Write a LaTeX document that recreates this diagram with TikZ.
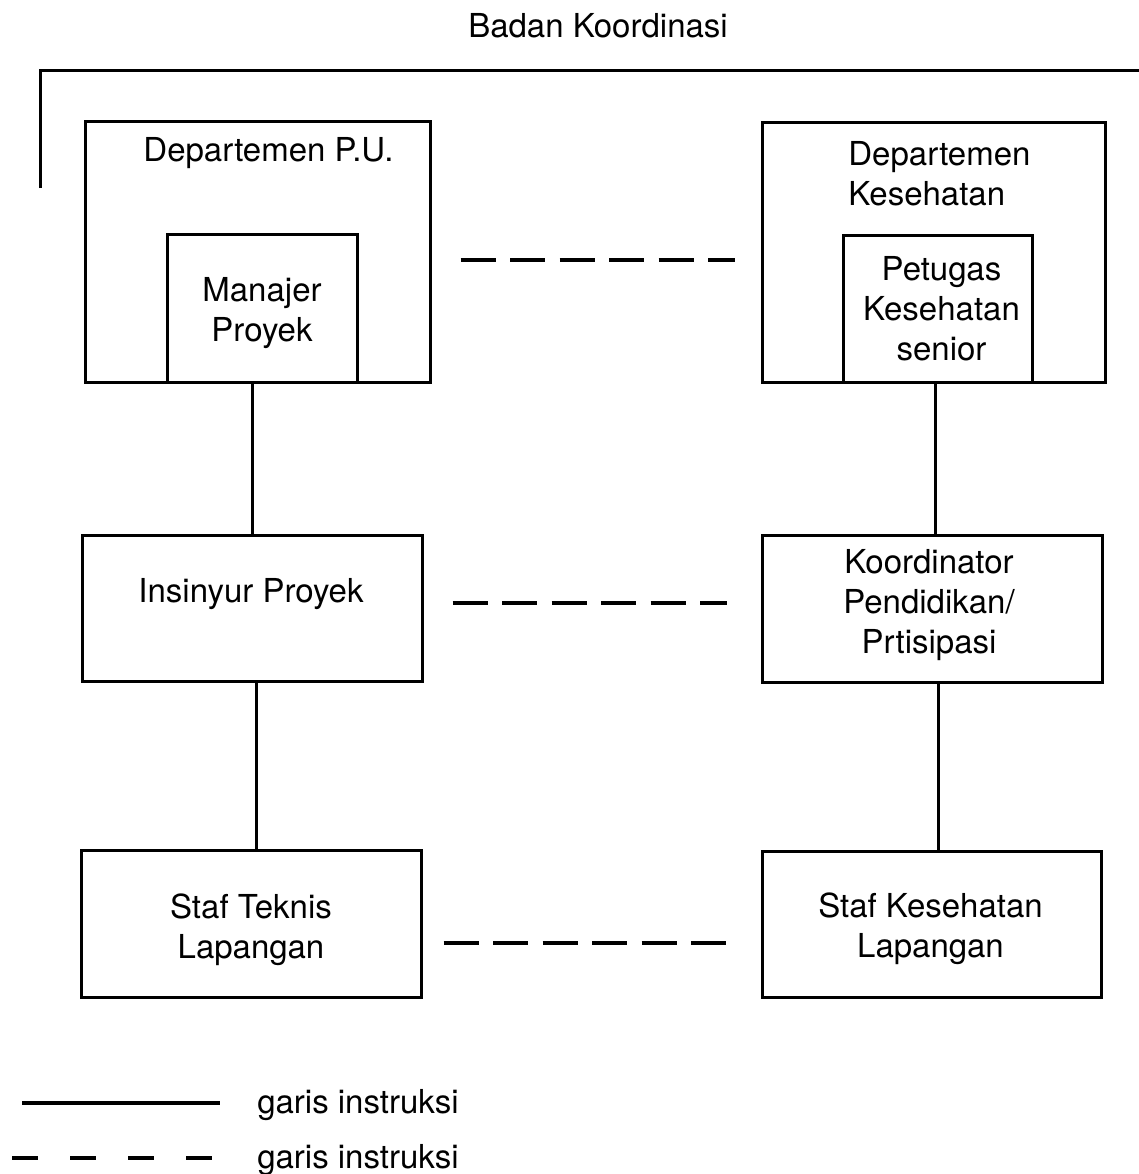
\documentclass[tikz,border=0pt]{standalone}
\usepackage{fontspec}
\setmainfont{TeX Gyre Heros}
\begin{document}
\begin{tikzpicture}[x=0.5pt,y=-0.5pt,
  txt/.style={font=\fontsize{16.5}{20}\selectfont, inner sep=0pt, align=center},
  unit/.style={draw, line width=1.5pt, inner sep=0pt},
  solidlink/.style={line width=1.5pt},
  dashlink/.style={line width=1.6pt, dash pattern=on 17.5pt off 7.25pt},
  legenddash/.style={line width=1.6pt, dash pattern=on 13pt off 16pt}]
\useasboundingbox (0,0) rectangle (1139,1174);

% coordinating body bracket
\node[txt, anchor=base] (badan) at (598,37) {Badan Koordinasi};
\coordinate (brk0) at (40,188);
\coordinate (brk1) at (40,70);
\coordinate (brk2) at (1139,70);
\draw[line width=1.5pt] (brk0) -- (brk1) -- (brk2);

% left column: public works
\node[unit, minimum width=172.5pt, minimum height=130.5pt] (pu) at (257.5,251.5) {};
\node[txt, anchor=base] (pulbl) at (268.5,161) {Departemen P.U.};
\node[unit, minimum width=95pt, minimum height=74pt] (mp) at (262,308) {};
\node[txt] (mplbl) at ([shift={(0,5)}]mp.center) {Manajer\\Proyek};
\node[unit, minimum width=170pt, minimum height=73pt] (ins) at (252,608) {};
\node[txt, anchor=base] (inslbl) at (251,602) {Insinyur Proyek};
\node[unit, minimum width=170pt, minimum height=73.5pt] (tek) at (251,923.5) {};
\node[txt] (teklbl) at ([shift={(0,6)}]tek.center) {Staf Teknis\\Lapangan};

% right column: health
\node[unit, minimum width=171.5pt, minimum height=130pt] (kes) at (933.5,252) {};
\node[txt, align=left, anchor=west] (keslbl) at (848,174) {Departemen\\Kesehatan};
\node[unit, minimum width=94.5pt, minimum height=73.5pt] (pet) at (937.5,308.5) {};
\node[txt] (petlbl) at ([shift={(4,0)}]pet.center) {Petugas\\Kesehatan\\senior};
\node[unit, minimum width=170pt, minimum height=73.5pt] (koo) at (932,608.5) {};
\node[txt] (koolbl) at ([shift={(-3,-3)}]koo.center) {Koordinator\\Pendidikan/\\Prtisipasi};
\node[unit, minimum width=169.5pt, minimum height=73pt] (skes) at (931.5,924) {};
\node[txt] (skeslbl) at ([shift={(-1,5)}]skes.center) {Staf Kesehatan\\Lapangan};

% instruction lines
\draw[solidlink] (ins.north) -- (ins.north |- pu.south);
\draw[solidlink] ([xshift=2pt]ins.south) -- ([xshift=2pt]ins.south |- tek.north);
\draw[solidlink] ([xshift=1.5pt]koo.north) -- ([xshift=1.5pt]koo.north |- pet.south);
\draw[solidlink] ([xshift=3pt]koo.south) -- ([xshift=3pt]koo.south |- skes.north);

% coordination lines
\draw[dashlink] ([shift={(29,8.5)}]pu.east) -- ([shift={(-26,8)}]kes.west);
\draw[dashlink] ([shift={(29,-5)}]ins.east) -- ([shift={(-34,-5.5)}]koo.west);
\draw[dashlink] ([shift={(21,19.5)}]tek.east) -- ([shift={(-35,19)}]skes.west);

% legend
\coordinate (ls0) at (22,1103);
\coordinate (ls1) at (220,1103);
\draw[line width=1.7pt] (ls0) -- (ls1);
\node[txt, anchor=base west] (lgs) at (257,1113) {garis instruksi};
\coordinate (ld0) at (12,1158);
\coordinate (ld1) at (220,1158);
\draw[legenddash] (ld0) -- (ld1);
\node[txt, anchor=base west] (lgd) at (257,1168) {garis instruksi};
\end{tikzpicture}
\end{document}
